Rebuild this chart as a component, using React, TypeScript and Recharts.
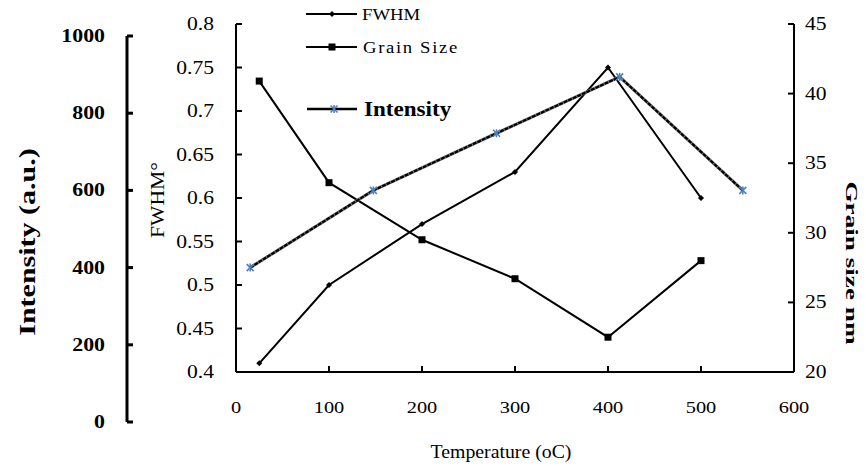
import { Line, LineChart, XAxis, YAxis } from "recharts";

const temps = [25, 100, 200, 300, 400, 500];
const fwhm = [0.41, 0.5, 0.57, 0.63, 0.75, 0.6];
const grainSize = [40.9, 33.6, 29.5, 26.7, 22.5, 28.0];
const intensityTemps = [100, 200, 300, 400, 500];
const intensity = [400, 600, 748, 894, 600];

const xTicks = [0, 100, 200, 300, 400, 500, 600];
const fwhmTicks = [0.4, 0.45, 0.5, 0.55, 0.6, 0.65, 0.7, 0.75, 0.8];
const grainTicks = [20, 25, 30, 35, 40, 45];
const intensityTicks = [0, 200, 400, 600, 800, 1000];

const FONT = '"Liberation Serif", "Times New Roman", serif';
const BLUE = "#4F81BD";

const mainData = temps.map((t, i) => ({ t, fwhm: fwhm[i], grain: grainSize[i] }));
const intensityData = intensityTemps.map((t, i) => ({ t, intensity: intensity[i] }));

interface TxtProps {
  x: number;
  y: number;
  anchor?: "start" | "middle" | "end";
  size: number;
  bold?: boolean;
  sx?: number;
  rotate?: number;
  spacing?: number;
  children: React.ReactNode;
}

// text stretched along its baseline, like the scaled picture
function Txt({ x, y, anchor = "start", size, bold, sx = 1.2, rotate = 0, spacing, children }: TxtProps) {
  return (
    <text
      transform={`translate(${x},${y}) rotate(${rotate}) scale(${sx},1)`}
      textAnchor={anchor}
      fontSize={size}
      fontWeight={bold ? "bold" : "normal"}
      fontFamily={FONT}
      letterSpacing={spacing}
      fill="#000"
    >
      {children}
    </text>
  );
}

const xTick = (p: any) => (
  <g key={p.index}>
    <line x1={p.x} y1={p.y} x2={p.x} y2={p.y - 6} stroke="#000" strokeWidth={2} />
    <Txt x={p.x} y={p.y + 41} anchor="middle" size={17}>{p.payload.value}</Txt>
  </g>
);

const fwhmTick = (p: any) => (
  <g key={p.index}>
    <line x1={p.x} y1={p.y} x2={p.x + 6} y2={p.y} stroke="#000" strokeWidth={2} />
    <Txt x={p.x - 22} y={p.y + 6} anchor="end" size={18}>{p.payload.value}</Txt>
  </g>
);

const grainTick = (p: any) => (
  <g key={p.index}>
    <line x1={p.x} y1={p.y} x2={p.x - 6} y2={p.y} stroke="#000" strokeWidth={2} />
    <Txt x={p.x + 11} y={p.y + 6} size={18}>{p.payload.value}</Txt>
  </g>
);

const intensityTick = (p: any) => (
  <g key={p.index}>
    <line x1={p.x} y1={p.y} x2={p.x + 6} y2={p.y} stroke="#000" strokeWidth={3} />
    <Txt x={p.x - 22} y={p.y + 6} anchor="end" size={19} bold sx={1.15}>{p.payload.value}</Txt>
  </g>
);

const diamondDot = (p: any) => (
  <path
    key={p.index}
    d={`M${p.cx},${p.cy - 3}L${p.cx + 3},${p.cy}L${p.cx},${p.cy + 3}L${p.cx - 3},${p.cy}Z`}
    fill="#000"
  />
);

const squareDot = (p: any) => <rect key={p.index} x={p.cx - 3.5} y={p.cy - 3.5} width={7} height={7} fill="#000" />;

function starMark(cx: number, cy: number, key?: any) {
  return (
    <g key={key} stroke={BLUE} strokeWidth={1.6}>
      <line x1={cx - 3.5} y1={cy - 3.5} x2={cx + 3.5} y2={cy + 3.5} />
      <line x1={cx - 3.5} y1={cy + 3.5} x2={cx + 3.5} y2={cy - 3.5} />
      <line x1={cx} y1={cy - 4} x2={cx} y2={cy + 4} />
    </g>
  );
}

const starDot = (p: any) => starMark(p.cx, p.cy, p.index);

function Legend() {
  return (
    <svg width={866} height={466} style={{ position: "absolute", left: 0, top: 0, pointerEvents: "none" }}>
      <line x1={306} y1={14} x2={357} y2={14} stroke="#000" strokeWidth={2} />
      <path d="M332,11L335,14L332,17L329,14Z" fill="#000" />
      <Txt x={362} y={20} size={17} sx={1.1}>FWHM</Txt>

      <line x1={306} y1={47} x2={357} y2={47} stroke="#000" strokeWidth={2} />
      <rect x={328.5} y={43.5} width={7} height={7} fill="#000" />
      <Txt x={363} y={53} size={17} sx={1.1} spacing={1.5}>Grain Size</Txt>

      <line x1={307} y1={109} x2={357} y2={109} stroke="#000" strokeWidth={2.5} />
      {starMark(334, 109)}
      <Txt x={364} y={116} size={21} bold sx={1.1}>Intensity</Txt>

      <Txt x={501} y={458} anchor="middle" size={18} sx={1.1}>Temperature (oC)</Txt>
      <Txt x={164} y={200} anchor="middle" size={18} rotate={-90}>FWHM°</Txt>
      <Txt x={35} y={242} anchor="middle" size={24} bold sx={1.25} rotate={-90}>Intensity (a.u.)</Txt>
      <Txt x={846} y={263} anchor="middle" size={17} bold sx={1.6} rotate={90}>Grain size nm</Txt>
    </svg>
  );
}

export default function App() {
  return (
    <div style={{ position: "absolute", left: 0, top: 0, width: 866, height: 466, background: "#fff" }}>
      <div style={{ position: "absolute", left: 0, top: 0 }}>
        <LineChart width={866} height={466} data={mainData} margin={{ top: 24, right: 12, bottom: 34, left: 136 }}>
          <XAxis
            dataKey="t"
            type="number"
            domain={[0, 600]}
            ticks={xTicks}
            interval={0}
            height={60}
            tickSize={0}
            tickMargin={0}
            tickLine={false}
            axisLine={{ stroke: "#000", strokeWidth: 2 }}
            tick={xTick}
          />
          <YAxis
            yAxisId="fwhm"
            orientation="left"
            width={100}
            domain={[0.4, 0.8]}
            ticks={fwhmTicks}
            interval={0}
            tickSize={0}
            tickMargin={0}
            tickLine={false}
            axisLine={{ stroke: "#000", strokeWidth: 2 }}
            tick={fwhmTick}
          />
          <YAxis
            yAxisId="grain"
            orientation="right"
            width={60}
            domain={[20, 45]}
            ticks={grainTicks}
            interval={0}
            tickSize={0}
            tickMargin={0}
            tickLine={false}
            axisLine={{ stroke: "#000", strokeWidth: 2 }}
            tick={grainTick}
          />
          <Line
            yAxisId="fwhm"
            dataKey="fwhm"
            type="linear"
            stroke="#000"
            strokeWidth={2}
            dot={diamondDot}
            isAnimationActive={false}
          />
          <Line
            yAxisId="grain"
            dataKey="grain"
            type="linear"
            stroke="#000"
            strokeWidth={2}
            dot={squareDot}
            isAnimationActive={false}
          />
        </LineChart>
      </div>
      <div style={{ position: "absolute", left: 0, top: 0, pointerEvents: "none" }}>
        <LineChart width={866} height={466} data={intensityData} margin={{ top: 36, right: 0, bottom: 44, left: 27 }}>
          <XAxis dataKey="t" type="number" domain={[0, 600]} hide />
          <YAxis
            orientation="left"
            width={100}
            domain={[0, 1000]}
            ticks={intensityTicks}
            interval={0}
            tickSize={0}
            tickMargin={0}
            tickLine={false}
            axisLine={{ stroke: "#000", strokeWidth: 3 }}
            tick={intensityTick}
          />
          <Line dataKey="intensity" type="linear" stroke="#777" strokeWidth={3.2} dot={false} isAnimationActive={false} />
          <Line
            dataKey="intensity"
            type="linear"
            stroke="#000"
            strokeWidth={2.2}
            strokeDasharray="4 1"
            dot={starDot}
            isAnimationActive={false}
          />
        </LineChart>
      </div>
      <Legend />
    </div>
  );
}
